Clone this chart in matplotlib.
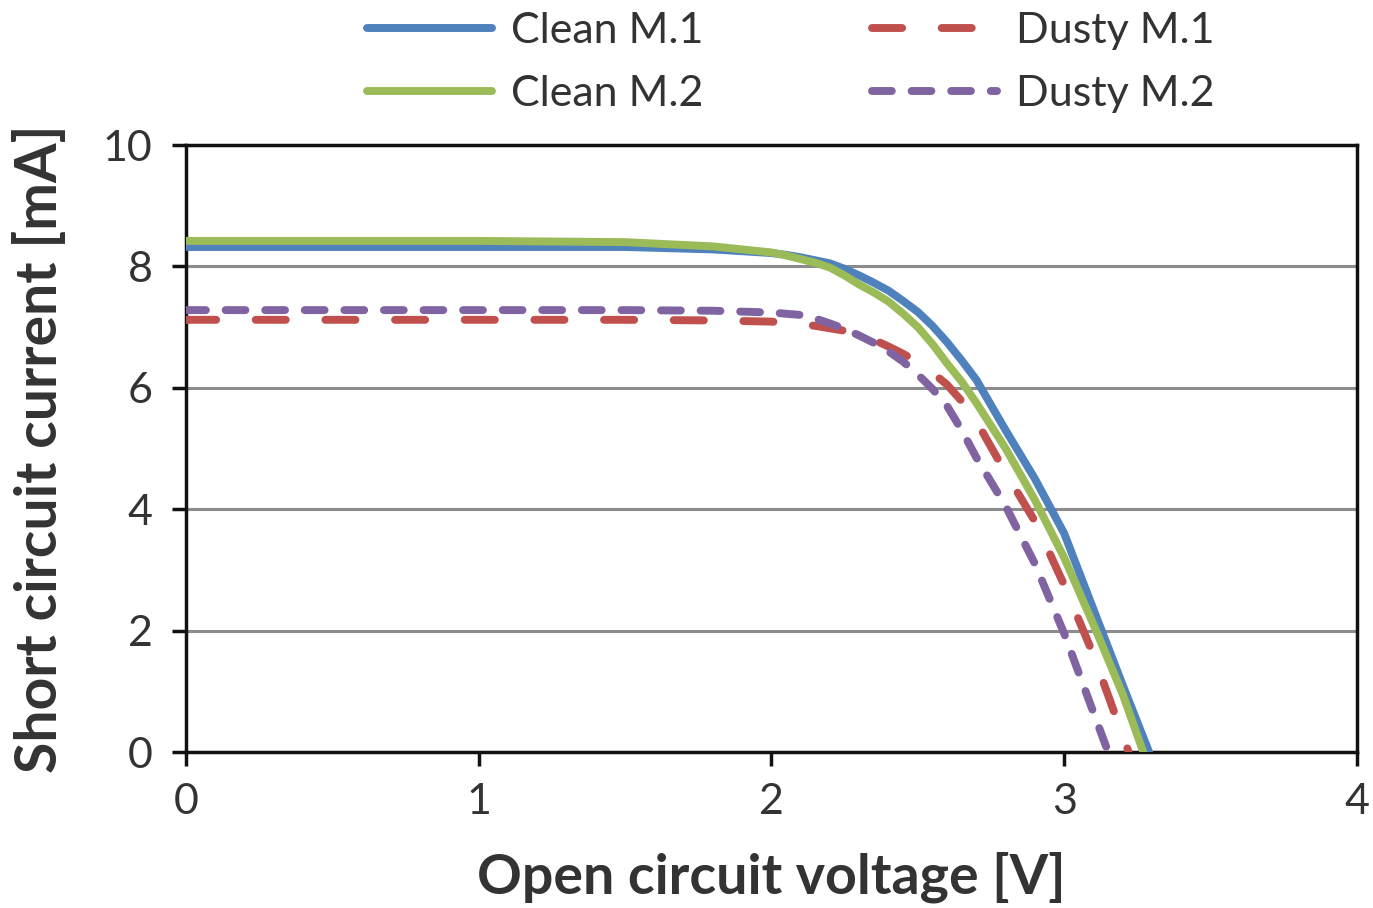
import matplotlib.pyplot as plt

plt.rcParams["font.family"] = ["Lato", "DejaVu Sans"]

# I-V curves (voltage in V, current in mA)
v_clean_m1 = [0, 0.5, 1.0, 1.5, 1.8, 2.0, 2.05, 2.1, 2.15, 2.2, 2.25, 2.3, 2.35, 2.4, 2.45, 2.5,
              2.55, 2.6, 2.65, 2.7, 2.8, 2.9, 3.0, 3.1, 3.2, 3.29]
i_clean_m1 = [8.32, 8.32, 8.32, 8.32, 8.28, 8.22, 8.19, 8.15, 8.1, 8.05, 7.96, 7.85, 7.73, 7.6, 7.43, 7.25,
              7.02, 6.75, 6.45, 6.13, 5.3, 4.5, 3.6, 2.35, 1.1, 0.0]

v_clean_m2 = [0, 0.5, 1.0, 1.5, 1.8, 2.0, 2.05, 2.1, 2.15, 2.2, 2.25, 2.3, 2.35, 2.4, 2.45, 2.5,
              2.55, 2.6, 2.65, 2.7, 2.8, 2.9, 3.0, 3.1, 3.2, 3.27]
i_clean_m2 = [8.42, 8.42, 8.42, 8.4, 8.33, 8.23, 8.18, 8.12, 8.06, 7.98, 7.85, 7.7, 7.57, 7.42, 7.22, 7.0,
              6.72, 6.4, 6.1, 5.75, 5.0, 4.15, 3.2, 2.1, 0.95, 0.0]

v_dusty_m1 = [0, 0.5, 1.0, 1.5, 1.8, 2.0, 2.1, 2.15, 2.2, 2.25, 2.3, 2.35, 2.4, 2.45, 2.5,
              2.55, 2.6, 2.65, 2.7, 2.8, 2.9, 3.0, 3.1, 3.22]
i_dusty_m1 = [7.12, 7.12, 7.12, 7.12, 7.11, 7.09, 7.05, 7.02, 6.98, 6.94, 6.88, 6.79, 6.68, 6.56, 6.42,
              6.25, 6.05, 5.78, 5.45, 4.6, 3.8, 2.75, 1.6, 0.0]

v_dusty_m2 = [0, 0.5, 1.0, 1.5, 1.8, 2.0, 2.1, 2.15, 2.2, 2.25, 2.3, 2.35, 2.4, 2.45, 2.5,
              2.55, 2.6, 2.65, 2.7, 2.8, 2.9, 3.0, 3.15]
i_dusty_m2 = [7.28, 7.28, 7.28, 7.28, 7.27, 7.24, 7.2, 7.14, 7.06, 6.97, 6.86, 6.74, 6.6, 6.43, 6.22,
              5.98, 5.7, 5.3, 4.85, 4.05, 3.1, 1.95, 0.0]

x_ticks = [0, 1, 2, 3, 4]
y_ticks = [0, 2, 4, 6, 8, 10]

fig = plt.figure(figsize=(13.73, 9.08), dpi=100)
ax = fig.add_axes([0.1355, 0.1718, 0.8528, 0.6685])

lw = 5.7
ax.plot(v_clean_m1, i_clean_m1, color="#4F81BD", lw=lw, solid_capstyle="round",
        solid_joinstyle="round", label="Clean M.1", zorder=4)
ax.plot(v_dusty_m1, i_dusty_m1, color="#C0504D", lw=lw, dash_capstyle="round",
        linestyle=(0, (3.8, 5.0)), label="Dusty M.1", zorder=3)
ax.plot(v_clean_m2, i_clean_m2, color="#9BBB59", lw=lw, solid_capstyle="round",
        solid_joinstyle="round", label="Clean M.2", zorder=5)
ax.plot(v_dusty_m2, i_dusty_m2, color="#8064A2", lw=lw, dash_capstyle="round",
        linestyle=(0, (2.5, 2.5)), label="Dusty M.2", zorder=3)

ax.set_xlim(0, 4)
ax.set_ylim(0, 10)
ax.set_xticks(x_ticks)
ax.set_yticks(y_ticks)
ax.grid(axis="y", color="#8C8C8C", lw=2.2, zorder=1)
ax.set_axisbelow(True)
for spine in ax.spines.values():
    spine.set_linewidth(2.5)
    spine.set_color("#111111")
ax.tick_params(axis="both", direction="out", length=10, width=2.5, color="#111111",
               labelsize=31, labelcolor="#333333")
ax.tick_params(axis="x", pad=12)
ax.tick_params(axis="y", pad=14)

ax.set_xlabel("Open circuit voltage [V]", fontsize=40, fontweight="bold", color="#333333", labelpad=22)
ax.set_ylabel("Short circuit current [mA]", fontsize=41, fontweight="bold", color="#333333", labelpad=26)

handles, labels = ax.get_legend_handles_labels()
order = [0, 2, 1, 3]
fig.legend([handles[k] for k in order], [labels[k] for k in order], ncol=2, loc="center",
           bbox_to_anchor=(0.576, 0.931), frameon=False, fontsize=31, handlelength=2.9,
           handletextpad=0.45, columnspacing=3.9, labelspacing=0.58, labelcolor="#333333")

fig.savefig("out.png", dpi=100)
